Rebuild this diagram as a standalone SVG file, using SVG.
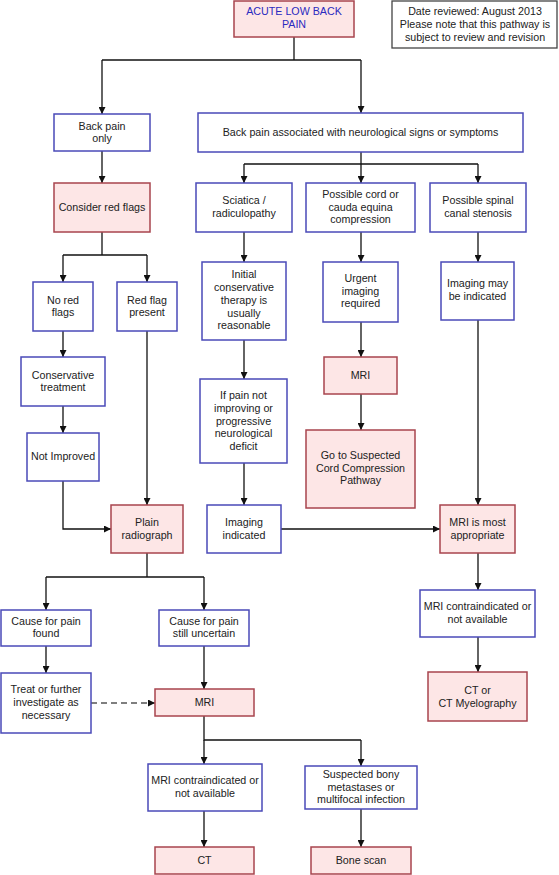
<svg xmlns="http://www.w3.org/2000/svg" width="559" height="875" viewBox="0 0 559 875">
<style>
text{font-family:"Liberation Sans",Arial,sans-serif;font-size:10.7px;fill:#222;text-anchor:middle}
.b{fill:#fff;stroke:#4a4ab8;stroke-width:1.5}
.p{fill:#fde6e6;stroke:#a8444e;stroke-width:1.5}
.g{fill:#fff;stroke:#444;stroke-width:1.3}
.c path{fill:none;stroke:#111;stroke-width:1.3}
.c path.a{marker-end:url(#ah)}
.c path.d{stroke:#555;stroke-dasharray:6 4}
.blue{fill:#2a2ac0}
</style>
<defs>
<marker id="ah" viewBox="0 0 10 10" refX="10" refY="5" markerWidth="7" markerHeight="7" markerUnits="userSpaceOnUse" orient="auto">
<path d="M0 0L10 5L0 10z" fill="#111"/>
</marker>
</defs>
<rect width="559" height="875" fill="#fff"/>
<g class="c" id="connectors">
<path d="M294 37V60"/>
<path d="M102 60H361"/>
<path class="a" d="M102 60V114"/>
<path class="a" d="M361 60V113"/>
<path class="a" d="M102 151V183"/>
<path d="M361 152V164"/>
<path d="M244 164H478"/>
<path class="a" d="M244 164V183"/>
<path class="a" d="M361 164V183"/>
<path class="a" d="M478 164V183"/>
<path d="M102 232V255"/>
<path d="M63 255H147"/>
<path class="a" d="M63 255V282"/>
<path class="a" d="M147 255V282"/>
<path class="a" d="M63 331V357"/>
<path class="a" d="M63 406V433"/>
<path class="a" d="M63 481V529H111"/>
<path class="a" d="M147 331V505"/>
<path class="a" d="M244 232V262"/>
<path class="a" d="M244 340V379"/>
<path class="a" d="M244 463V505"/>
<path class="a" d="M361 232V262"/>
<path class="a" d="M361 322V357"/>
<path class="a" d="M361 394V430"/>
<path class="a" d="M478 232V262"/>
<path class="a" d="M478 320V505"/>
<path class="a" d="M281 529H440"/>
<path class="a" d="M478 553V590"/>
<path class="a" d="M478 637V672"/>
<path d="M147 553V577"/>
<path d="M46 577H204"/>
<path class="a" d="M46 577V610"/>
<path class="a" d="M204 577V610"/>
<path class="a" d="M46 646V673"/>
<path class="a" d="M204 646V689"/>
<path class="a d" d="M91 703H155"/>
<path d="M204 716V740H361"/>
<path class="a" d="M204 740V764"/>
<path class="a" d="M361 740V766"/>
<path class="a" d="M204 811V847"/>
<path class="a" d="M361 809V847"/>
</g>
<g id="acute"><rect class="p" x="234" y="1" width="120" height="36"/><text class="blue" x="294" y="15">ACUTE LOW BACK</text><text class="blue" x="294" y="28">PAIN</text></g>
<g id="date"><rect class="g" x="392" y="1" width="165" height="47"/><text x="475" y="15">Date reviewed: August 2013</text><text x="475" y="28">Please note that this pathway is</text><text x="475" y="41">subject to review and revision</text></g>
<g id="backonly"><rect class="b" x="54" y="114" width="96" height="37"/><text x="102" y="130">Back pain</text><text x="102" y="142">only</text></g>
<g id="neuro"><rect class="b" x="198" y="113" width="325" height="39"/><text x="360.5" y="136">Back pain associated with neurological signs or symptoms</text></g>
<g id="redflags"><rect class="p" x="54" y="183" width="96" height="49"/><text x="102" y="211">Consider red flags</text></g>
<g id="sciatica"><rect class="b" x="196" y="183" width="96" height="49"/><text x="244" y="204">Sciatica /</text><text x="244" y="217">radiculopathy</text></g>
<g id="cord"><rect class="b" x="306" y="183" width="109" height="49"/><text x="360.5" y="198">Possible cord or</text><text x="360.5" y="211">cauda equina</text><text x="360.5" y="223">compression</text></g>
<g id="stenosis"><rect class="b" x="430" y="183" width="96" height="49"/><text x="478" y="204">Possible spinal</text><text x="478" y="217">canal stenosis</text></g>
<g id="noredflags"><rect class="b" x="33" y="282" width="60" height="49"/><text x="63" y="304">No red</text><text x="63" y="316">flags</text></g>
<g id="redflagpresent"><rect class="b" x="117" y="282" width="60" height="49"/><text x="147" y="304">Red flag</text><text x="147" y="316">present</text></g>
<g id="conservative"><rect class="b" x="21" y="357" width="84" height="49"/><text x="63" y="379">Conservative</text><text x="63" y="391">treatment</text></g>
<g id="notimproved"><rect class="b" x="27" y="433" width="72" height="48"/><text x="63" y="460">Not Improved</text></g>
<g id="plain"><rect class="p" x="111" y="505" width="72" height="48"/><text x="147" y="526">Plain</text><text x="147" y="539">radiograph</text></g>
<g id="initial"><rect class="b" x="202" y="262" width="84" height="78"/><text x="244" y="278">Initial</text><text x="244" y="291">conservative</text><text x="244" y="304">therapy is</text><text x="244" y="317">usually</text><text x="244" y="329">reasonable</text></g>
<g id="ifpain"><rect class="b" x="200" y="379" width="87" height="84"/><text x="243.5" y="399">If pain not</text><text x="243.5" y="412">improving or</text><text x="243.5" y="425">progressive</text><text x="243.5" y="437">neurological</text><text x="243.5" y="450">deficit</text></g>
<g id="imaging"><rect class="b" x="207" y="505" width="74" height="48"/><text x="244" y="526">Imaging</text><text x="244" y="539">indicated</text></g>
<g id="urgent"><rect class="b" x="323" y="262" width="75" height="60"/><text x="360.5" y="282">Urgent</text><text x="360.5" y="295">imaging</text><text x="360.5" y="307">required</text></g>
<g id="mri1"><rect class="p" x="324" y="357" width="73" height="37"/><text x="360.5" y="379">MRI</text></g>
<g id="goto"><rect class="p" x="306" y="430" width="109" height="78"/><text x="360.5" y="459">Go to Suspected</text><text x="360.5" y="472">Cord Compression</text><text x="360.5" y="484">Pathway</text></g>
<g id="maybe"><rect class="b" x="441" y="262" width="73" height="58"/><text x="477.5" y="287">Imaging may</text><text x="477.5" y="300">be indicated</text></g>
<g id="mostapp"><rect class="p" x="440" y="505" width="75" height="48"/><text x="477.5" y="526">MRI is most</text><text x="477.5" y="539">appropriate</text></g>
<g id="contra1"><rect class="b" x="420" y="590" width="115" height="47"/><text x="477.5" y="610">MRI contraindicated or</text><text x="477.5" y="623">not available</text></g>
<g id="ctmyelo"><rect class="p" x="428" y="672" width="99" height="49"/><text x="477.5" y="694">CT or</text><text x="477.5" y="707">CT Myelography</text></g>
<g id="found"><rect class="b" x="1" y="610" width="90" height="36"/><text x="46" y="625">Cause for pain</text><text x="46" y="637">found</text></g>
<g id="uncertain"><rect class="b" x="159" y="610" width="90" height="36"/><text x="204" y="625">Cause for pain</text><text x="204" y="637">still uncertain</text></g>
<g id="treat"><rect class="b" x="1" y="673" width="90" height="60"/><text x="46" y="693">Treat or further</text><text x="46" y="706">investigate as</text><text x="46" y="719">necessary</text></g>
<g id="mri2"><rect class="p" x="155" y="689" width="99" height="27"/><text x="204.5" y="706">MRI</text></g>
<g id="contra2"><rect class="b" x="148" y="764" width="114" height="47"/><text x="205" y="784">MRI contraindicated or</text><text x="205" y="797">not available</text></g>
<g id="ct"><rect class="p" x="155" y="847" width="99" height="27"/><text x="204.5" y="864">CT</text></g>
<g id="bony"><rect class="b" x="305" y="766" width="112" height="43"/><text x="361" y="778">Suspected bony</text><text x="361" y="791">metastases or</text><text x="361" y="803">multifocal infection</text></g>
<g id="bonescan"><rect class="p" x="311" y="847" width="100" height="27"/><text x="361" y="864">Bone scan</text></g>
</svg>
